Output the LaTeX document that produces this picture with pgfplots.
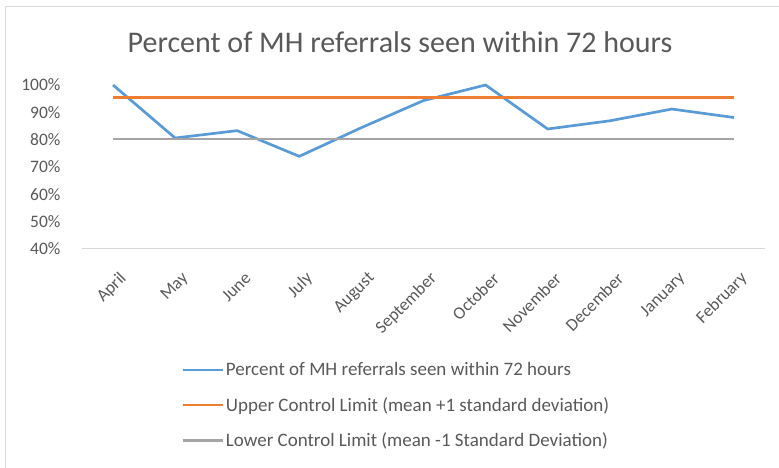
\documentclass[border=0pt]{standalone}
\usepackage{fontspec}
\setmainfont{Carlito}
\usepackage{pgfplots}
\pgfplotsset{compat=1.18}
\definecolor{xblue}{HTML}{5B9BD5}
\definecolor{xorange}{HTML}{ED7D31}
\definecolor{xgray}{HTML}{A5A5A5}
\definecolor{txtgray}{HTML}{595959}
\definecolor{basegray}{HTML}{D9D9D9}
\begin{document}
\begin{tikzpicture}
\useasboundingbox (0pt,0pt) rectangle (779pt,468pt);
\draw[basegray, line width=1pt] (5pt,0pt) -- (5pt,461pt) -- (779pt,461pt);
\node[text=txtgray, font=\fontsize{30}{36}\selectfont] at (400pt,426pt) {Percent of MH referrals seen within 72 hours};
\begin{axis}[
    at={(82pt,219pt)}, anchor=south west,
    scale only axis, width=683pt, height=164pt,
    xmin=-0.5, xmax=10.5, ymin=40, ymax=100,
    clip=false,
    axis x line=bottom, axis y line=left,
    x axis line style={draw=basegray, line width=1pt, -},
    y axis line style={draw=none},
    major tick length=0pt,
    xtick={0,...,10},
    xticklabels={April,May,June,July,August,September,October,November,December,January,February},
    ytick={40,50,...,100},
    yticklabel={\pgfmathprintnumber{\tick}\%},
    /pgf/number format/assume math mode=true,
    tick label style={text=txtgray, font=\fontsize{17.5}{20}\selectfont},
    x tick label style={rotate=45, anchor=east, xshift=-8pt, yshift=-26.5pt},
    y tick label style={xshift=-18pt},
    legend style={at={(axis description cs:0.145,-0.68)}, anchor=north west,
        draw=none, fill=none, inner sep=0pt, row sep=16pt,
        font=\fontsize{19}{22}\selectfont, text=txtgray,
        cells={anchor=west}},
    legend image code/.code={\draw[#1] (0pt,0pt) -- (40pt,0pt);},
]
% percent seen within 72 hours
\addplot[xblue, line width=2.7pt, line join=round] coordinates {
    (0,100) (1,80.6) (2,83.3) (3,73.9) (4,84.4) (5,94.3)
    (6,100) (7,83.9) (8,86.9) (9,91.2) (10,88.1)
};
\addlegendentry{Percent of MH referrals seen within 72 hours}
% upper control limit
\addplot[xorange, line width=2.7pt] coordinates {(0,95.5) (10,95.5)};
\addlegendentry{Upper Control Limit (mean +1 standard deviation)}
% lower control limit
\addplot[xgray, line width=2.7pt] coordinates {(0,80.2) (10,80.2)};
\addlegendentry{Lower Control Limit (mean -1 Standard Deviation)}
\end{axis}
\end{tikzpicture}
\end{document}
